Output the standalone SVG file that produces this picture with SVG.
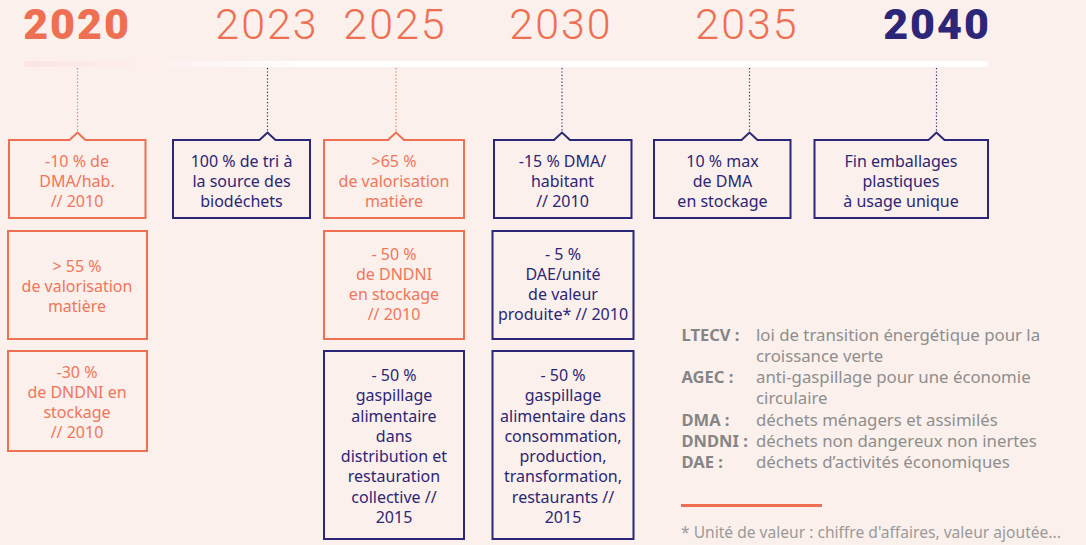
<svg xmlns="http://www.w3.org/2000/svg" width="1086" height="545" viewBox="0 0 1086 545">
<defs>
<linearGradient id="bar" x1="0" y1="0" x2="1" y2="0">
<stop offset="0" stop-color="#FBE4E2"/>
<stop offset="0.3" stop-color="#FFFFFF"/>
<stop offset="1" stop-color="#FFFFFF"/>
</linearGradient>
</defs>
<style>
.yr{font-family:Roboto,"Liberation Sans",sans-serif;font-size:43px;text-anchor:middle;letter-spacing:2px}
.yl{font-weight:300;fill:#EF6F53}
.yb{font-weight:900;}
.bo{fill:none;stroke:#EF6F53;stroke-width:2}
.bn{fill:none;stroke:#2B2677;stroke-width:2}
.to{font-family:"Noto Sans","Liberation Sans",sans-serif;font-size:16px;fill:#F0765A;text-anchor:middle}
.tn{font-family:"Noto Sans","Liberation Sans",sans-serif;font-size:16px;fill:#2B2677;text-anchor:middle}
.do{stroke:#EF6F53;stroke-width:1.2;stroke-dasharray:1.2 2.2;fill:none}
.dn{stroke:#2B2677;stroke-width:1.2;stroke-dasharray:1.2 2.2;fill:none}
.lk{font-family:"Noto Sans","Liberation Sans",sans-serif;font-size:16.5px;font-weight:700;fill:#858585}
.lv{font-family:"Noto Sans","Liberation Sans",sans-serif;font-size:16.8px;fill:#8E8E8E}
.fn{font-family:"Noto Sans","Liberation Sans",sans-serif;font-size:15.6px;fill:#9A9A9A}
</style>
<rect width="1086" height="545" fill="#FBF0EC"/>

<g id="years">
<text class="yr yb" x="77" y="39" fill="#EF6F53">2020</text>
<text class="yr yl" x="267" y="39">2023</text>
<text class="yr yl" x="395" y="39">2025</text>
<text class="yr yl" x="561" y="39">2030</text>
<text class="yr yl" x="747" y="39">2035</text>
<text class="yr yb" x="937" y="39" fill="#2B2677">2040</text>
</g>

<g id="timeline">
<rect x="24" y="61" width="964" height="6" rx="3" fill="url(#bar)"/>
</g>

<g id="connectors">
<line class="do" x1="77.5" y1="68" x2="77.5" y2="131"/>
<line class="dn" x1="267.5" y1="68" x2="267.5" y2="131"/>
<line class="do" x1="396" y1="68" x2="396" y2="131"/>
<line class="dn" x1="562" y1="68" x2="562" y2="131"/>
<line class="dn" x1="749.5" y1="68" x2="749.5" y2="131"/>
<line class="dn" x1="936.5" y1="68" x2="936.5" y2="131"/>
</g>

<g id="n2020a">
<path class="bo" d="M9,140 H69.5 L77.5,132.5 L85.5,140 H145.5 V218 H9 Z"/>
<text class="to" x="77" y="167">-10 % de</text>
<text class="to" x="77" y="187">DMA/hab.</text>
<text class="to" x="77" y="207">// 2010</text>
</g>
<g id="n2020b">
<rect class="bo" x="8" y="231" width="139" height="108"/>
<text class="to" x="77" y="272">&gt; 55 %</text>
<text class="to" x="77" y="292">de valorisation</text>
<text class="to" x="77" y="312">matière</text>
</g>
<g id="n2020c">
<rect class="bo" x="8" y="351" width="139" height="100"/>
<text class="to" x="77" y="378">-30 %</text>
<text class="to" x="77" y="398">de DNDNI en</text>
<text class="to" x="77" y="418">stockage</text>
<text class="to" x="77" y="438">// 2010</text>
</g>

<g id="n2023">
<path class="bn" d="M173,140 H259.5 L267.5,132.5 L275.5,140 H310 V218 H173 Z"/>
<text class="tn" x="241.5" y="167">100 % de tri à</text>
<text class="tn" x="241.5" y="187">la source des</text>
<text class="tn" x="241.5" y="207">biodéchets</text>
</g>

<g id="n2025a">
<path class="bo" d="M324,140 H388 L396,132.5 L404,140 H464 V218 H324 Z"/>
<text class="to" x="394" y="167">&gt;65 %</text>
<text class="to" x="394" y="187">de valorisation</text>
<text class="to" x="394" y="207">matière</text>
</g>
<g id="n2025b">
<rect class="bo" x="324" y="231" width="140" height="108"/>
<text class="to" x="394" y="260">- 50 %</text>
<text class="to" x="394" y="280">de DNDNI</text>
<text class="to" x="394" y="300">en stockage</text>
<text class="to" x="394" y="320">// 2010</text>
</g>
<g id="n2025c">
<rect class="bn" x="324" y="351" width="140" height="188"/>
<text class="tn" x="394" y="381">- 50 %</text>
<text class="tn" x="394" y="401">gaspillage</text>
<text class="tn" x="394" y="421.5">alimentaire</text>
<text class="tn" x="394" y="441.5">dans</text>
<text class="tn" x="394" y="462">distribution et</text>
<text class="tn" x="394" y="482">restauration</text>
<text class="tn" x="394" y="502.5">collective //</text>
<text class="tn" x="394" y="522.5">2015</text>
</g>

<g id="n2030a">
<path class="bn" d="M494,140 H554 L562,132.5 L570,140 H631.5 V218 H494 Z"/>
<text class="tn" x="562.5" y="167">-15 % DMA/</text>
<text class="tn" x="562.5" y="187">habitant</text>
<text class="tn" x="562.5" y="207">// 2010</text>
</g>
<g id="n2030b">
<rect class="bn" x="492.5" y="231" width="141" height="108"/>
<text class="tn" x="563" y="260">- 5 %</text>
<text class="tn" x="563" y="280">DAE/unité</text>
<text class="tn" x="563" y="300">de valeur</text>
<text class="tn" x="563" y="320" font-size="15">produite* // 2010</text>
</g>
<g id="n2030c">
<rect class="bn" x="492.5" y="351" width="141" height="188"/>
<text class="tn" x="563" y="381">- 50 %</text>
<text class="tn" x="563" y="401">gaspillage</text>
<text class="tn" x="563" y="421.5">alimentaire dans</text>
<text class="tn" x="563" y="441.5">consommation,</text>
<text class="tn" x="563" y="462">production,</text>
<text class="tn" x="563" y="482">transformation,</text>
<text class="tn" x="563" y="502.5">restaurants //</text>
<text class="tn" x="563" y="522.5">2015</text>
</g>

<g id="n2035">
<path class="bn" d="M654,140 H741.5 L749.5,132.5 L757.5,140 H790.5 V218 H654 Z"/>
<text class="tn" x="722.5" y="167">10 % max</text>
<text class="tn" x="722.5" y="187">de DMA</text>
<text class="tn" x="722.5" y="207">en stockage</text>
</g>

<g id="n2040">
<path class="bn" d="M814.5,140 H928.5 L936.5,132.5 L944.5,140 H988 V218 H814.5 Z"/>
<text class="tn" x="901" y="167">Fin emballages</text>
<text class="tn" x="901" y="187">plastiques</text>
<text class="tn" x="901" y="207">à usage unique</text>
</g>

<g id="legend">
<text class="lk" x="681.5" y="341">LTECV :</text>
<text class="lv" x="756" y="341">loi de transition énergétique pour la</text>
<text class="lv" x="756" y="362">croissance verte</text>
<text class="lk" x="681.5" y="383">AGEC :</text>
<text class="lv" x="756" y="383">anti-gaspillage pour une économie</text>
<text class="lv" x="756" y="404">circulaire</text>
<text class="lk" x="681.5" y="425.5">DMA :</text>
<text class="lv" x="756" y="425.5">déchets ménagers et assimilés</text>
<text class="lk" x="681.5" y="446.5">DNDNI :</text>
<text class="lv" x="756" y="446.5">déchets non dangereux non inertes</text>
<text class="lk" x="681.5" y="467.5">DAE :</text>
<text class="lv" x="756" y="467.5">déchets d’activités économiques</text>
<line x1="681" y1="505.5" x2="822" y2="505.5" stroke="#EF6F53" stroke-width="3"/>
<text class="fn" x="681" y="537.5">* Unité de valeur : chiffre d'affaires, valeur ajoutée...</text>
</g>
</svg>
